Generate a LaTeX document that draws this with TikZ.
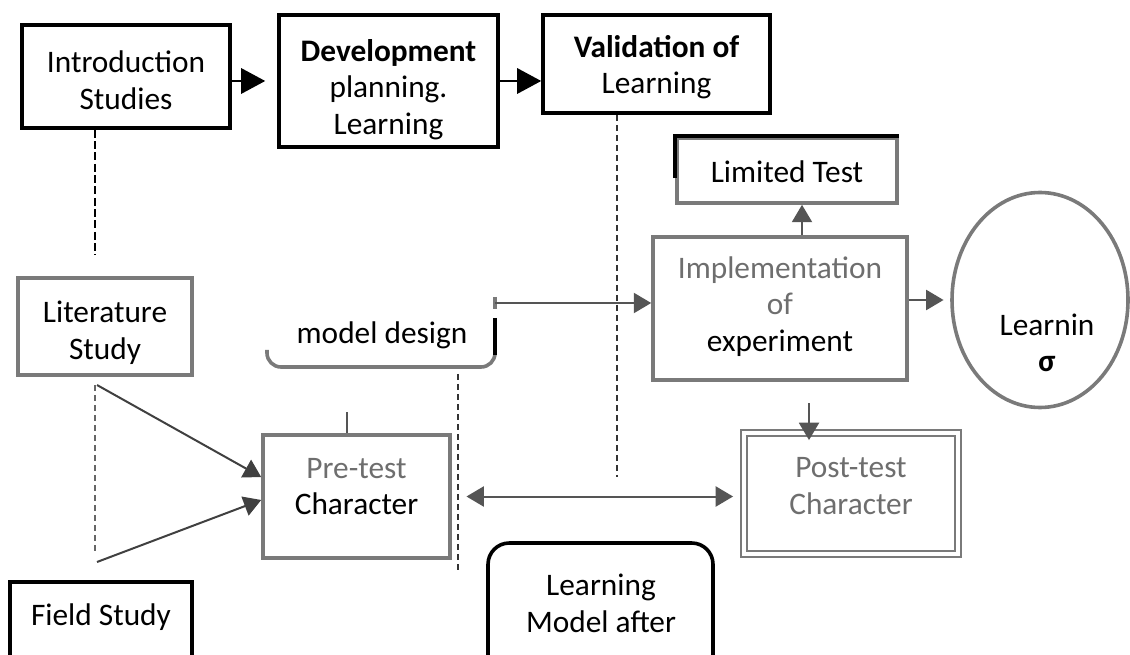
\documentclass[tikz,border=0pt]{standalone}
\usepackage{fontspec}
\setmainfont{Carlito}
\usetikzlibrary{arrows.meta,shapes.geometric,fit}
\definecolor{grayline}{HTML}{7A7A7A}
\definecolor{graytext}{HTML}{6E6E6E}
\definecolor{arrowgray}{HTML}{555555}
\begin{document}
\begin{tikzpicture}[x=0.75pt,y=-0.75pt,
  every node/.style={font=\fontsize{23.5}{27.5}\selectfont, align=center, inner sep=0pt},
  blackbox/.style={draw=black, line width=2.7pt},
  graybox/.style={draw=grayline, line width=2.7pt},
  bigarrow/.style={line width=1.5pt, -{Triangle[length=18pt,width=19pt]}},
  grayarrow/.style={draw=arrowgray, line width=1.5pt, -{Triangle[length=13pt,width=15pt]}},
  dashline/.style={draw=black, line width=1.4pt, dash pattern=on 6pt off 2.5pt},
  dashthin/.style={draw=black!80, line width=1.1pt, dash pattern=on 4.5pt off 3pt},
]
\useasboundingbox (0,0) rectangle (1130,655);
\clip (0,0) rectangle (1130,655);

% top row
\node[blackbox, fit={(22,25)(230,128)}, label={[yshift=-3pt]center:{Introduction\\Studies}}] (intro) {};
\node[blackbox, fit={(279,15)(498,147)}, label={[yshift=-6.5pt]center:{\textbf{Development}\\planning.\\Learning}}] (dev) {};
\node[blackbox, fit={(543,15)(770,113)}, label={[yshift=-2.5pt]center:{\textbf{Validation of}\\Learning}}] (val) {};

\draw[bigarrow, shorten >=9pt] (intro.east |- dev.west) -- (dev.west);
\draw[bigarrow] (dev.east) -- (dev.east -| val.west);

% limited test
\node[graybox, fit={(677,138)(897,203)}, label={[yshift=-1.25pt]center:Limited Test}] (lt) {};
\draw[black, line width=3pt] (lt.north west) ++(0,42) -- (lt.north west) -- (lt.north east);

% implementation
\node[graybox, fit={(653,237)(907,380)}, label={[yshift=1.5pt]center:{{\color{graytext}Implementation}\\{\color{graytext}of}\\experiment}}] (impl) {};

% learning circle
\node[ellipse, graybox, minimum width=176*0.75pt, minimum height=215*0.75pt] (circ) at (1040,300) {};
\node (circt) at (1047,343) {Learnin\\\textbf{σ}};

% literature / field
\node[graybox, fit={(18,278)(192,375)}, label={[yshift=-4.5pt]center:{Literature\\Study}}] (lit) {};
\node[blackbox, fit={(10,582)(192,700)}] (field) {};
\node (fieldt) at (101,617) {Field Study};

% model design (partial rounded box)
\node (md) at (382,335) {model design};
\draw[graybox, rounded corners=10.5pt] (267,350) -- (267,367) -- (495,367) -- (495,345);
\draw[black, line width=2.8pt] (495,318) -- (495,355);
\draw[grayline, line width=2.8pt] (495,297) -- (495,309);
\coordinate (mdtick) at (495,303);
\coordinate (mdb) at (458,374);
\coordinate (d4) at (458,572);

% pre-test / post-test
\node[graybox, fit={(263,435)(450,558)}, label={[yshift=7.5pt]center:{{\color{graytext}Pre-test}\\Character}}] (pre) {};
\node[draw=grayline, line width=1.4pt, double, double distance=3pt, fit={(744,433)(958,554)}, label={[yshift=5.5pt]center:{{\color{graytext}Post-test}\\{\color{graytext}Character}}}] (post) {};

% learning model after
\node[blackbox, rounded corners=16pt, fit={(488,543)(713,700)}] (lma) {};
\node (lmat) at (601,603) {Learning\\Model after};

% connectors
\draw[grayarrow] (mdtick) -- (mdtick -| impl.west);
\coordinate (ax) at (802,0);
\draw[grayarrow] (impl.north -| ax) -- (lt.south -| ax);
\draw[grayarrow, shorten >=5pt] (impl.east |- circ.west) -- (circ.west);
\coordinate (px) at (809,0);
\draw[grayarrow, shorten <=16pt, shorten >=-6pt] (impl.south -| px) -- (post.north -| px);
\draw[draw=arrowgray, line width=1.5pt, {Triangle[length=13pt,width=15pt]}-{Triangle[length=13pt,width=15pt]}, shorten <=11pt, shorten >=7.5pt] (pre.east) -- (pre.east -| post.west);

\coordinate (stub) at (347,412);
\draw[arrowgray, line width=1.2pt] (stub) -- (stub |- pre.north);

\coordinate (la) at (97,385);
\coordinate (lb) at (97,562);
\draw[grayarrow, draw=black!75] (la) -- ([yshift=14.6pt]pre.west);
\draw[grayarrow, draw=black!75] (lb) -- ([yshift=-2.6pt]pre.west);

% dashed lines
\coordinate (d1) at (95,255);
\draw[dashline] (intro.south -| d1) -- (d1);
\coordinate (d2a) at (95,385);
\coordinate (d2b) at (95,552);
\draw[dashthin, draw=black!60] (d2a) -- (d2b);
\coordinate (d3) at (617,477);
\draw[dashthin] (val.south -| d3) -- (d3);
\draw[dashthin] (mdb) -- (d4);
\end{tikzpicture}
\end{document}
